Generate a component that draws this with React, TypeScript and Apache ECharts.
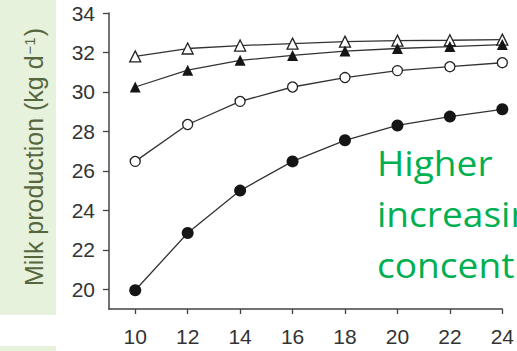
import React, { useEffect, useRef } from "react";
import * as echarts from "echarts";

const xValues = [10, 12, 14, 16, 18, 20, 22, 24];
const openTriangle = [31.8, 32.2, 32.35, 32.45, 32.55, 32.6, 32.62, 32.65];
const filledTriangle = [30.25, 31.1, 31.6, 31.85, 32.07, 32.2, 32.3, 32.4];
const openCircle = [26.48, 28.35, 29.52, 30.25, 30.73, 31.08, 31.28, 31.48];
const filledCircle = [19.95, 22.85, 25.0, 26.48, 27.55, 28.3, 28.75, 29.12];
const xTicks = [10, 12, 14, 16, 18, 20, 22, 24];
const yTicks = [20, 22, 24, 26, 28, 30, 32, 34];
const yTitle = "Milk production (kg d";
const noteLines = ["Higher", "increasing", "concentrate"];

const pair = (ys: number[]) => xValues.map((x, i) => [x, ys[i]]);

export default function App() {
  const ref = useRef<HTMLDivElement>(null);
  useEffect(() => {
    if (!ref.current) return;
    const chart = echarts.init(ref.current, null, { renderer: "svg" });
    const lineStyle = { color: "#333", width: 1.3 };
    const mk = (name: string, data: number[], symbol: string, filled: boolean, size: number) => ({
      name,
      type: "line",
      data: pair(data),
      symbol,
      symbolSize: size,
      showSymbol: true,
      lineStyle,
      itemStyle: {
        color: filled ? "#151515" : "#ffffff",
        borderColor: "#222",
        borderWidth: filled ? 0 : 1.3,
        opacity: 1,
      },
      z: 3,
    });
    const labelStyle = {
      color: "#333333",
      fontSize: 21,
      fontFamily: "Liberation Sans, Arial, sans-serif",
    };
    chart.setOption({
      animation: false,
      backgroundColor: "#ffffff",
      grid: { left: 109, right: 8.7, top: 13, bottom: 42, containLabel: false },
      xAxis: {
        type: "value",
        min: 9,
        max: 24,
        axisLine: { onZero: false, lineStyle: { color: "#444", width: 1.5 } },
        axisTick: { show: true, length: 5, customValues: xTicks, lineStyle: { color: "#444", width: 1.3 } },
        axisLabel: { ...labelStyle, margin: 17, customValues: xTicks },
        splitLine: { show: false },
      },
      yAxis: {
        type: "value",
        min: 19,
        max: 34,
        axisLine: { show: true, onZero: false, lineStyle: { color: "#444", width: 1.5 } },
        axisTick: { show: true, length: 6, customValues: yTicks, lineStyle: { color: "#444", width: 1.3 } },
        axisLabel: { ...labelStyle, margin: 14, customValues: yTicks },
        splitLine: { show: false },
      },
      series: [
        mk("open triangle", openTriangle, "triangle", false, 11),
        mk("filled triangle", filledTriangle, "triangle", true, 11),
        mk("open circle", openCircle, "circle", false, 10),
        mk("filled circle", filledCircle, "circle", true, 12),
      ],
      graphic: [
        { type: "rect", shape: { x: 0, y: 0, width: 56, height: 315 }, style: { fill: "#e7f2dc" }, z: -10 },
        { type: "rect", shape: { x: 0, y: 346, width: 56, height: 10 }, style: { fill: "#e7f2dc" }, z: -10 },
        {
          type: "text",
          x: 34,
          y: 157,
          rotation: Math.PI / 2,
          style: {
            text: yTitle + "{sup|−1}" + ")",
            fill: "#56663f",
            font: "25px Liberation Sans, Arial, sans-serif",
            align: "center",
            verticalAlign: "middle",
            rich: {
              sup: {
                fontSize: 15,
                fontFamily: "Liberation Sans, Arial, sans-serif",
                fill: "#56663f",
                verticalAlign: "top",
                padding: [0, 1, 10, 1],
              },
            },
          },
          z: 10,
        },
        ...noteLines.map((t, i) => ({
          type: "text",
          x: 377,
          y: 162 + i * 51,
          scaleX: 1.06,
          style: {
            text: t,
            fill: "#00b050",
            font: "35px Open Sans, sans-serif",
            align: "left",
            verticalAlign: "middle",
          },
          z: 10,
        })),
      ],
    } as any);
    return () => chart.dispose();
  }, []);
  return (
    <div
      ref={ref}
      style={{ position: "fixed", left: 0, top: 0, width: 517, height: 351, overflow: "hidden" }}
    />
  );
}
